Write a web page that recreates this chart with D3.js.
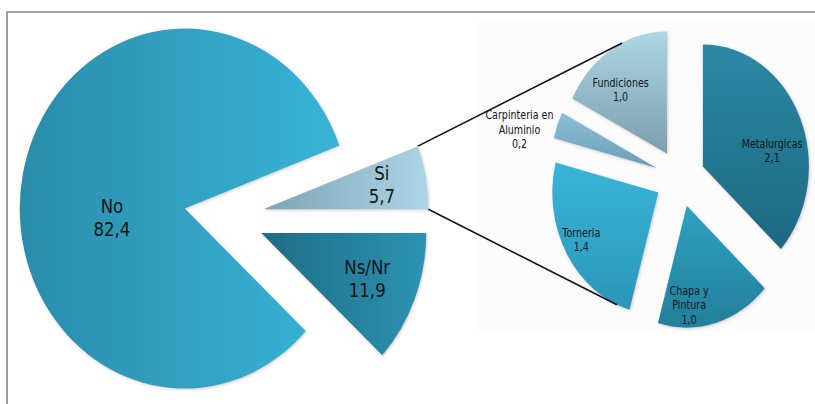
<!DOCTYPE html>
<html>
<head>
<meta charset="utf-8">
<script src="https://cdn.jsdelivr.net/npm/d3@7"></script>
<style>
  body { margin: 0; background: #fff; }
  svg { display: block; }
  text { font-family: "DejaVu Sans", sans-serif; fill: #151515; }
</style>
</head>
<body>
<div class="chart"></div>
<script>
// main pie
const mainCats = ["Si", "Ns/Nr", "No"];
const mainValues = [5.7, 11.9, 82.4];
// secondary pie (breakdown of "Si")
const subCats = ["Metalurgicas", "Chapa y\nPintura", "Torneria", "Carpinteria en\nAluminio", "Fundiciones"];
const subValues = [2.1, 1.0, 1.4, 0.2, 1.0];

const mainColors = [["#7ea4b4", "#acd5e5"], ["#1e6c85", "#2c93b1"], ["#2a8cab", "#38b4d7"]];
const subColors = [["#2a89a5", "#1d6880"], ["#30a1c2", "#227f9b"], ["#39b5d9", "#2a96b8"], ["#8ac0d6", "#6b9fb5"], ["#add6e6", "#7c9eac"]];

const W = 815, H = 404;
const fmt = v => d3.format(".1f")(v).replace(".", ",");

const svg = d3.select(".chart").append("svg")
  .attr("width", W)
  .attr("height", H);

const defs = svg.append("defs");
const shadow = defs.append("filter").attr("id", "shadow")
  .attr("x", "-10%").attr("y", "-10%").attr("width", "120%").attr("height", "120%");
shadow.append("feDropShadow")
  .attr("dx", 1).attr("dy", 1).attr("stdDeviation", 1.5)
  .attr("flood-color", "#8a6a6a").attr("flood-opacity", 0.35);

function grad(id, c, vertical) {
  const g = defs.append("linearGradient").attr("id", id)
    .attr("x1", 0).attr("y1", 0)
    .attr("x2", vertical ? 0 : 1).attr("y2", vertical ? 1 : 0);
  g.append("stop").attr("offset", "0%").attr("stop-color", c[0]);
  g.append("stop").attr("offset", "100%").attr("stop-color", c[1]);
}

// frame
svg.append("rect").attr("x", 475).attr("y", 22).attr("width", W - 475).attr("height", 308).attr("fill", "#fcfcfc");
svg.append("path").attr("d", "M7," + H + "V12H" + W)
  .attr("fill", "none").attr("stroke", "#808080").attr("stroke-width", 1.5);

// draws an exploded pie; returns slice geometry helpers
function drawPie(opt) {
  const pie = d3.pie().sort(null)
    .startAngle(opt.start).endAngle(opt.start + 2 * Math.PI);
  const arcs = pie(opt.values);
  const arc = d3.arc().innerRadius(0).outerRadius(opt.r);

  const g = svg.append("g")
    .attr("transform", "translate(" + opt.cx + "," + opt.cy + ") scale(1," + opt.k + ")");

  arcs.forEach((a, i) => {
    grad(opt.id + i, opt.colors[i], opt.vertical);
    a.mid = (a.startAngle + a.endAngle) / 2;
    a.ox = opt.explode * Math.sin(a.mid);
    a.oy = -opt.explode * Math.cos(a.mid);
  });

  g.selectAll("path")
    .data(arcs)
    .enter().append("path")
    .attr("transform", d => "translate(" + d.ox + "," + d.oy + ")")
    .attr("d", arc)
    .attr("fill", (d, i) => "url(#" + opt.id + i + ")")
    .attr("filter", "url(#shadow)");

  // page position of a point on a slice at angle a and radius fraction f
  arcs.point = function(i, ang, f) {
    const d = arcs[i];
    return [opt.cx + d.ox + f * opt.r * Math.sin(ang),
            opt.cy + opt.k * (d.oy - f * opt.r * Math.cos(ang))];
  };

  // labels
  arcs.forEach((d, i) => {
    const lp = opt.labelPos[i];
    const la = d3.arc().innerRadius(0).outerRadius(2 * lp.f * opt.r);
    const c = la.centroid(d);
    const x = opt.cx + d.ox + c[0] + lp.dx;
    const y = opt.cy + opt.k * (d.oy + c[1]) + lp.dy;
    const lines = opt.cats[i].split("\n").concat(fmt(opt.values[i]));
    const t = svg.append("text")
      .attr("transform", "translate(" + x + "," + y + ") scale(0.83,1)")
      .attr("text-anchor", "middle")
      .style("font-size", opt.fontSize + "px");
    lines.forEach((s, j) => {
      t.append("tspan")
        .attr("x", 0)
        .attr("y", (j - (lines.length - 1) / 2) * opt.lineH)
        .attr("dy", "0.35em")
        .text(s);
    });
  });

  return arcs;
}

const mainArcs = drawPie({
  id: "m", values: mainValues, cats: mainCats, colors: mainColors,
  start: Math.PI / 2 - 2 * Math.PI * mainValues[0] / d3.sum(mainValues),
  cx: 224, cy: 217, r: 165, k: 180 / 165, explode: 40, vertical: false,
  fontSize: 20, lineH: 23,
  labelPos: [{f: 0.73, dx: 0, dy: -1}, {f: 0.69, dx: 0, dy: 0}, {f: 0.45, dx: 0, dy: 25}]
});

const subArcs = drawPie({
  id: "s", values: subValues, cats: subCats, colors: subColors,
  start: 0,
  cx: 680, cy: 178, r: 106, k: 122 / 106, explode: 25, vertical: true,
  fontSize: 11.5, lineH: 14.5,
  labelPos: [{f: 0.6, dx: 11, dy: 14}, {f: 0.6, dx: -15, dy: 29}, {f: 0.6, dx: -22, dy: 11},
             {f: 1.2, dx: -18, dy: 13}, {f: 0.6, dx: -13, dy: -1}]
});

// connector lines from the "Si" slice to the secondary pie
const si = mainArcs[0];
const p1 = mainArcs.point(0, si.startAngle, 1);
const p2 = mainArcs.point(0, si.endAngle, 1);
const q1 = subArcs.point(4, 335 * Math.PI / 180, 1);
const q2 = subArcs.point(2, 203 * Math.PI / 180, 1);

svg.append("line")
  .attr("x1", p1[0]).attr("y1", p1[1]).attr("x2", q1[0]).attr("y2", q1[1])
  .attr("stroke", "#111").attr("stroke-width", 1.6);
svg.append("line")
  .attr("x1", p2[0]).attr("y1", p2[1]).attr("x2", q2[0]).attr("y2", q2[1])
  .attr("stroke", "#111").attr("stroke-width", 1.6);
</script>
</body>
</html>
